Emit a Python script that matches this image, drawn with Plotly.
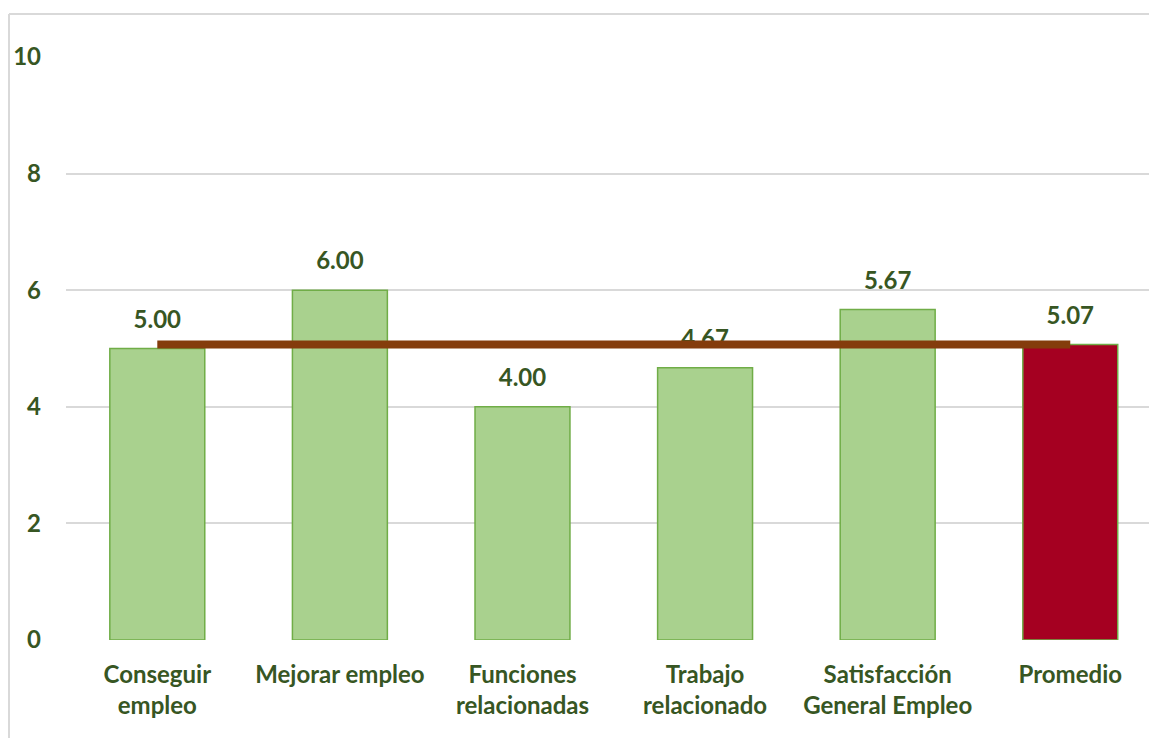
import plotly.graph_objects as go

categories = ["Conseguir<br>empleo", "Mejorar empleo", "Funciones<br>relacionadas",
              "Trabajo<br>relacionado", "Satisfacción<br>General Empleo", "Promedio"]
values = [5.00, 6.00, 4.00, 4.67, 5.67, 5.07]
average_line = [5.07, 5.07, 5.07, 5.07, 5.07, 5.07]
y_ticks = [0, 2, 4, 6, 8, 10]

GREEN = "#A9D18E"
RED = "#A50021"
TXT = "#375623"
FRAME = "#D9D9D9"
FONT = "Lato"

bar_colors = [GREEN] * (len(values) - 1) + [RED]

fig = go.Figure()
fig.add_trace(go.Bar(
    x=categories, y=values,
    width=0.52,
    marker=dict(color=bar_colors, line=dict(color="#70AD47", width=1.5)),
    showlegend=False,
    hoverinfo="skip",
))
# data labels (drawn before the average line so the line covers them)
fig.add_trace(go.Scatter(
    x=categories, y=values,
    mode="markers+text",
    marker=dict(size=22, opacity=0),
    text=[f"{v:.2f}" for v in values],
    textposition="top center",
    textfont=dict(family=FONT, size=24, color=TXT, weight="bold"),
    cliponaxis=False,
    showlegend=False,
    hoverinfo="skip",
))
fig.add_trace(go.Scatter(
    x=categories, y=average_line,
    mode="lines",
    line=dict(color="#843C0C", width=8),
    showlegend=False,
    hoverinfo="skip",
))

# outer chart frame (left and top edges visible)
PW, PH = 1091, 583
fx = (9 - 66) / PW
fy = (640 - 14) / PH
fig.add_shape(type="line", xref="paper", yref="paper",
              x0=fx, x1=fx, y0=-0.3, y1=fy,
              line=dict(color=FRAME, width=2))
fig.add_shape(type="line", xref="paper", yref="paper",
              x0=fx, x1=1.1, y0=fy, y1=fy,
              line=dict(color=FRAME, width=2))

fig.update_layout(
    width=1149, height=730,
    margin=dict(l=58, r=0, t=49, b=98),
    paper_bgcolor="white", plot_bgcolor="white",
    font=dict(family=FONT, color=TXT),
    xaxis=dict(
        range=[-0.5, 5.475],
        showgrid=False, zeroline=False, showline=False,
        tickfont=dict(family=FONT, size=24, color=TXT, weight="bold"),
        ticks="", ticklabelstandoff=18,
    ),
    yaxis=dict(
        range=[0, 10], tickvals=y_ticks,
        showgrid=True, gridcolor=FRAME, gridwidth=1.5,
        zeroline=False, showline=False,
        tickfont=dict(family=FONT, size=24, color=TXT, weight="bold"),
        ticks="", ticklabelstandoff=24,
    ),
)
fig.write_html("out.html")
